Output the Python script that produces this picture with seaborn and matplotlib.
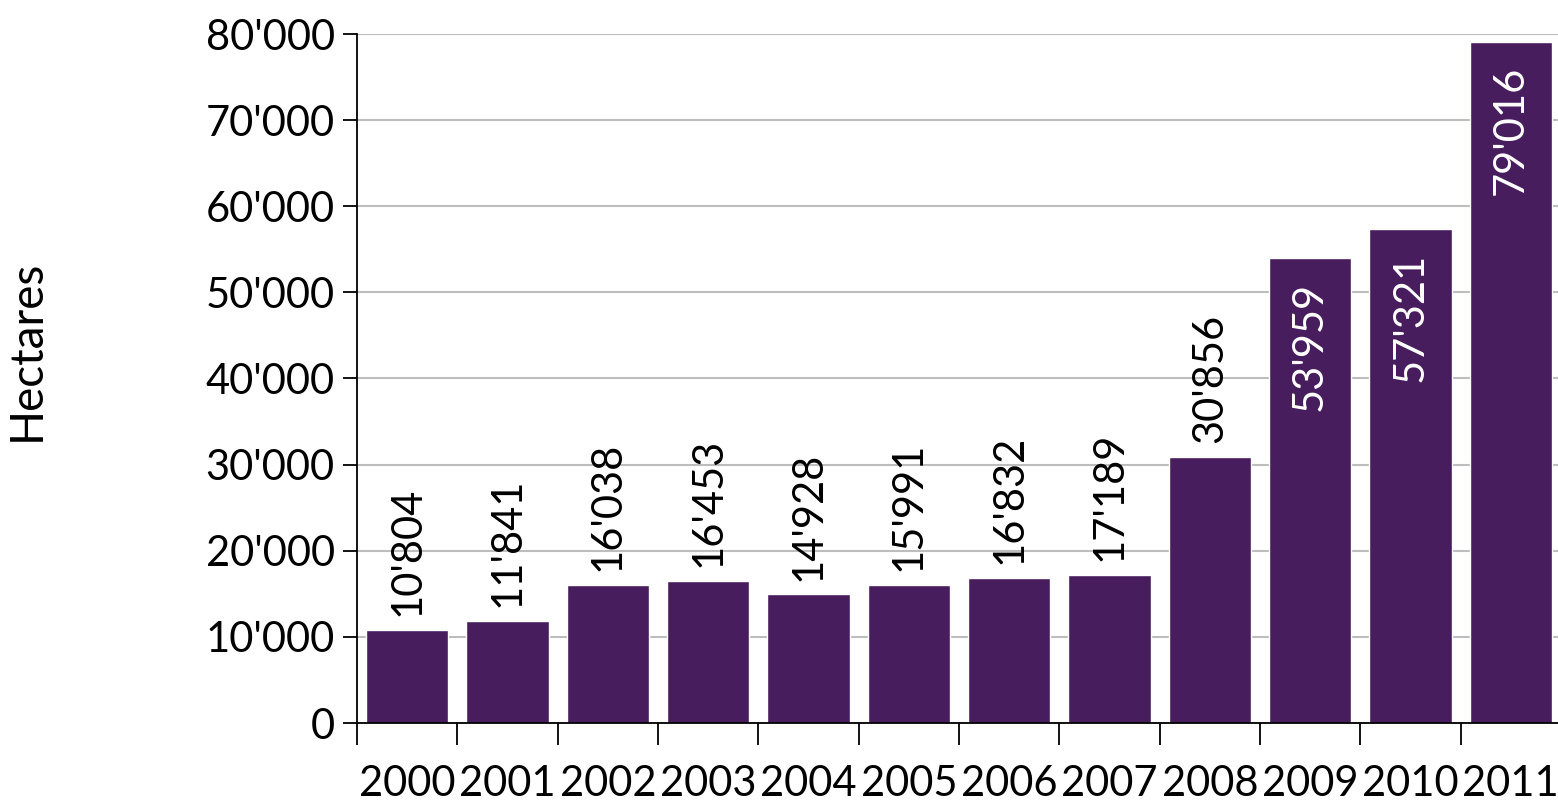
import matplotlib
matplotlib.use("Agg")
import matplotlib.pyplot as plt
import seaborn as sns
import pandas as pd
from matplotlib.ticker import FuncFormatter, FixedLocator

# Data
years = ["2000", "2001", "2002", "2003", "2004", "2005",
         "2006", "2007", "2008", "2009", "2010", "2011"]
hectares = [10804, 11841, 16038, 16453, 14928, 15991,
            16832, 17189, 30856, 53959, 57321, 79016]

BAR_COLOR = "#471D5E"


def fmt(v):
    return f"{int(v):,}".replace(",", "'")


df = pd.DataFrame({"Year": years, "Hectares": hectares})

sns.set_theme(style="white")
plt.rcParams["font.family"] = ["Lato", "DejaVu Sans"]

fig = plt.figure(figsize=(15.58, 8.05), dpi=100)
ax = fig.add_axes([357 / 1558, 82 / 805, 1204 / 1558, 689 / 805])

sns.barplot(data=df, x="Year", y="Hectares", color=BAR_COLOR,
            saturation=1, width=0.82, ax=ax)

ax.set_xlim(-0.5, len(years) - 0.5)
ax.set_ylim(0, 80000)
ax.set_yticks(range(0, 80001, 10000))
ax.yaxis.set_major_formatter(FuncFormatter(lambda x, _: fmt(x)))
ax.yaxis.grid(True, color="#BDBDBD", linewidth=1.5)
ax.set_axisbelow(True)

# ticks: labels at centres, tick marks between categories
ax.xaxis.set_minor_locator(FixedLocator([i - 0.5 for i in range(len(years) + 1)]))
ax.tick_params(axis="x", which="major", length=0, labelsize=30, pad=30)
ax.tick_params(axis="x", which="minor", length=16, width=1.3, color="black",
               direction="out", bottom=True)
ax.tick_params(axis="y", which="major", length=10, width=1.3, color="black",
               direction="out", left=True, labelsize=30, pad=6)
for lab in ax.get_xticklabels() + ax.get_yticklabels():
    lab.set_color("black")

for s in ["top", "right"]:
    ax.spines[s].set_visible(False)
for s in ["left", "bottom"]:
    ax.spines[s].set_color("black")
    ax.spines[s].set_linewidth(1.3)

ax.set_xlabel("")
ax.set_ylabel("Hectares", fontsize=33, color="black")
ax.yaxis.set_label_coords(-0.257, 0.541)

# value labels
for i, v in enumerate(hectares):
    if v > 50000:
        ax.annotate(fmt(v), (i, v), xytext=(0, -17), textcoords="offset points",
                    rotation=90, ha="center", va="top", color="white", fontsize=30)
    else:
        ax.annotate(fmt(v), (i, v), xytext=(0, 10), textcoords="offset points",
                    rotation=90, ha="center", va="bottom", color="black", fontsize=30)

fig.savefig("out.png", dpi=100)
